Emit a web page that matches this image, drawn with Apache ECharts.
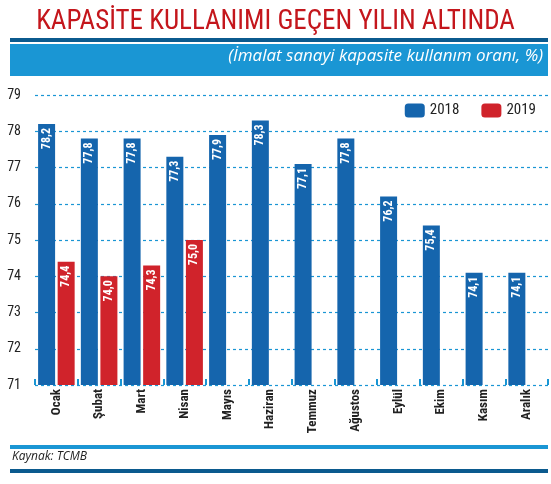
<!DOCTYPE html>
<html><head><meta charset="utf-8">
<script src="https://cdn.jsdelivr.net/npm/echarts@6/dist/echarts.min.js"></script>
<style>html,body{margin:0;padding:0;background:#fff}#c{width:551px;height:484px}</style>
</head><body><div id="c"></div>
<script>
const categories = ['Ocak','Şubat','Mart','Nisan','Mayıs','Haziran','Temmuz','Ağustos','Eylül','Ekim','Kasım','Aralık'];
const s2018 = [78.2,77.8,77.8,77.3,77.9,78.3,77.1,77.8,76.2,75.4,74.1,74.1];
const s2019 = [74.4,74.0,74.3,75.0,null,null,null,null,null,null,null,null];
const fmt = v => v.value == null ? '' : v.value.toFixed(1).replace('.', ',');
const chart = echarts.init(document.getElementById('c'));
const cond = '"Liberation Sans Narrow", "Roboto Condensed", "DejaVu Sans Condensed", sans-serif';
chart.setOption({
  animation:false,
  title:{text:'KAPASİTE KULLANIMI GEÇEN YILIN ALTINDA',left:'center',top:4,
    textStyle:{color:'#c4161c',fontSize:27,fontWeight:'normal',fontFamily:cond}},
  graphic:[
    {type:'rect',shape:{x:10,y:38,width:538,height:4},style:{fill:'#0b5a8e'}},
    {type:'rect',shape:{x:10,y:44,width:538,height:32},style:{fill:'#1a96d4'}},
    {type:'text',right:8,top:48,style:{text:'(İmalat sanayi kapasite kullanım oranı, %)',fill:'#fff',font:'italic 17px "Open Sans", sans-serif'}},
    {type:'rect',shape:{x:10,y:445,width:538,height:4},style:{fill:'#1a96d4'}},
    {type:'text',left:12,top:451,style:{text:'Kaynak: TCMB',fill:'#222',font:'italic 12px "Open Sans", sans-serif'}},
    {type:'rect',shape:{x:10,y:469,width:538,height:4},style:{fill:'#0b5a8e'}}
  ],
  legend:{right:10,top:98,itemWidth:20,itemHeight:14,itemGap:22,
    textStyle:{fontSize:15,color:'#222',fontFamily:cond}},
  grid:{left:35,right:3,top:95,bottom:99},
  xAxis:{type:'category',data:categories,
    axisLine:{show:false},
    axisTick:{show:true,inside:true,length:6,lineStyle:{color:'#1a96d4',width:2}},
    axisLabel:{rotate:90,fontSize:13,fontWeight:'bold',color:'#222',fontFamily:cond,margin:4}},
  yAxis:{type:'value',min:71,max:79,interval:1,
    axisLine:{show:false},axisTick:{show:false},
    axisLabel:{fontSize:14,color:'#222',fontFamily:cond,margin:14},
    splitLine:{lineStyle:{color:'#1a96d4',type:[3,3],width:1.2}}},
  series:[
    {name:'2018',type:'bar',data:s2018,barWidth:17,barGap:'15%',itemStyle:{color:'#1565ad'},
      label:{show:true,position:'insideTop',rotate:90,align:'right',verticalAlign:'middle',distance:4,
        color:'#fff',fontSize:12,fontWeight:'bold',fontFamily:cond,formatter:fmt}},
    {name:'2019',type:'bar',data:s2019,barWidth:17,itemStyle:{color:'#d0232b'},
      label:{show:true,position:'insideTop',rotate:90,align:'right',verticalAlign:'middle',distance:4,
        color:'#fff',fontSize:12,fontWeight:'bold',fontFamily:cond,formatter:fmt}}
  ]
});
</script></body></html>
